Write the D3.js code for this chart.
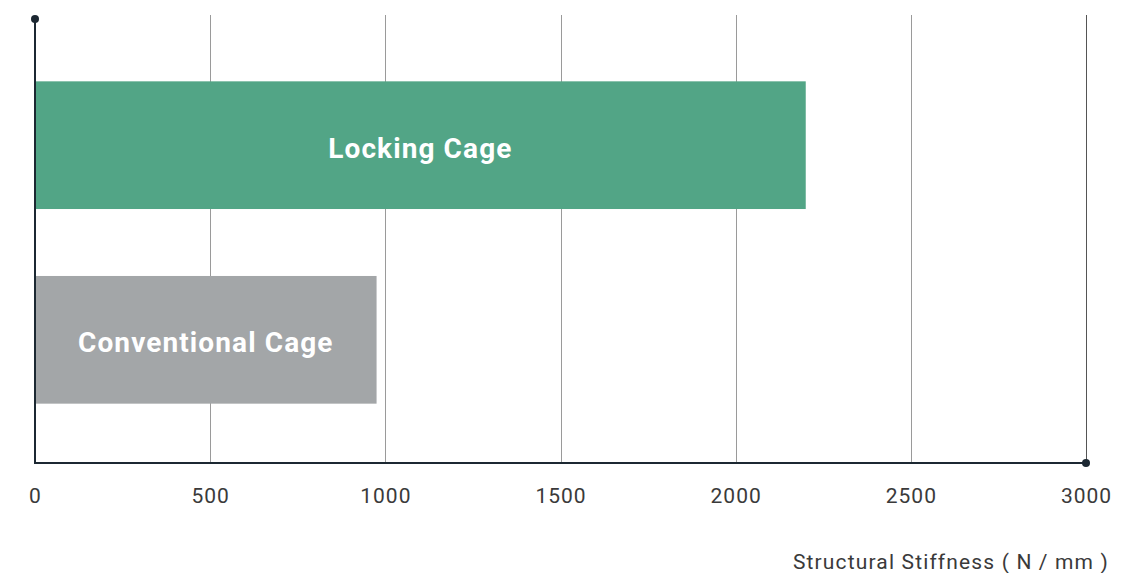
<!DOCTYPE html>
<html>
<head>
<meta charset="utf-8">
<script src="https://cdn.jsdelivr.net/npm/d3@7"></script>
<style>
  body { margin: 0; background: #fff; }
  text { font-family: Roboto, "Open Sans", sans-serif; }
</style>
</head>
<body>
<div id="vis"></div>
<script>
const categories = ["Locking Cage", "Conventional Cage"]
const stiffness = [2200, 975]
const barColors = ["#52a586", "#a3a6a8"]
const tickValues = [0, 500, 1000, 1500, 2000, 2500, 3000]
const axisTitle = "Structural Stiffness ( N / mm )"

const width = 1145
const height = 573
const margin = {top: 18, right: 59, bottom: 110, left: 35}

const svg = d3.select("#vis").append("svg")
    .attr("width", width)
    .attr("height", height)

const xScale = d3.scaleLinear()
    .domain([0, 3000])
    .range([margin.left, width - margin.right])

const yScale = d3.scaleBand()
    .domain(categories)
    .range([margin.top + 3, height - margin.bottom + 1])
    .paddingInner(0.344)
    .paddingOuter(0.31)

const yBottom = height - margin.bottom

// vertical grid lines
svg.append("g")
    .selectAll("line")
    .data(tickValues.slice(1))
    .join("line")
        .attr("x1", d => Math.round(xScale(d)) + 0.5)
        .attr("x2", d => Math.round(xScale(d)) + 0.5)
        .attr("y1", 15)
        .attr("y2", yBottom)
        .attr("stroke", d => d === 3000 ? "#555" : "#9a9a9a")
        .attr("stroke-width", 1)

// bars
svg.append("g")
    .selectAll("rect")
    .data(categories)
    .join("rect")
        .attr("x", xScale(0))
        .attr("y", d => yScale(d))
        .attr("width", (d, i) => xScale(stiffness[i]) - xScale(0))
        .attr("height", yScale.bandwidth())
        .attr("fill", (d, i) => barColors[i])

// bar labels
svg.append("g")
    .selectAll("text")
    .data(categories)
    .join("text")
        .attr("x", (d, i) => (xScale(0) + xScale(stiffness[i])) / 2)
        .attr("y", d => yScale(d) + yScale.bandwidth() / 2)
        .attr("dy", "0.45em")
        .attr("text-anchor", "middle")
        .attr("fill", "#fff")
        .attr("font-weight", 700)
        .attr("font-size", 28)
        .attr("letter-spacing", 1.1)
        .text(d => d)

// axes lines
const axisColor = "#1c2832"
svg.append("line")
    .attr("x1", xScale(0)).attr("x2", xScale(0))
    .attr("y1", 19).attr("y2", yBottom)
    .attr("stroke", axisColor).attr("stroke-width", 2)
svg.append("line")
    .attr("x1", xScale(0) - 1).attr("x2", xScale(3000))
    .attr("y1", yBottom).attr("y2", yBottom)
    .attr("stroke", axisColor).attr("stroke-width", 2)
svg.append("circle")
    .attr("cx", xScale(0)).attr("cy", 19).attr("r", 4)
    .attr("fill", axisColor)
svg.append("circle")
    .attr("cx", xScale(3000)).attr("cy", yBottom).attr("r", 4)
    .attr("fill", axisColor)

// tick labels
const xAxis = d3.axisBottom(xScale)
    .tickValues(tickValues)
    .tickFormat(d3.format("d"))
    .tickSize(0)
    .tickPadding(25)

svg.append("g")
    .attr("transform", `translate(0,${yBottom})`)
    .call(xAxis)
    .call(g => g.select(".domain").remove())
    .call(g => g.selectAll("text")
        .attr("font-size", 21)
        .attr("fill", "#3a3a3a")
        .attr("letter-spacing", 1)
        .attr("font-family", "Roboto, sans-serif"))

// axis title
svg.append("text")
    .attr("x", 1109)
    .attr("y", 569)
    .attr("text-anchor", "end")
    .attr("font-size", 21)
    .attr("fill", "#3a3a3a")
    .attr("letter-spacing", 1.15)
    .text(axisTitle)
</script>
</body>
</html>
